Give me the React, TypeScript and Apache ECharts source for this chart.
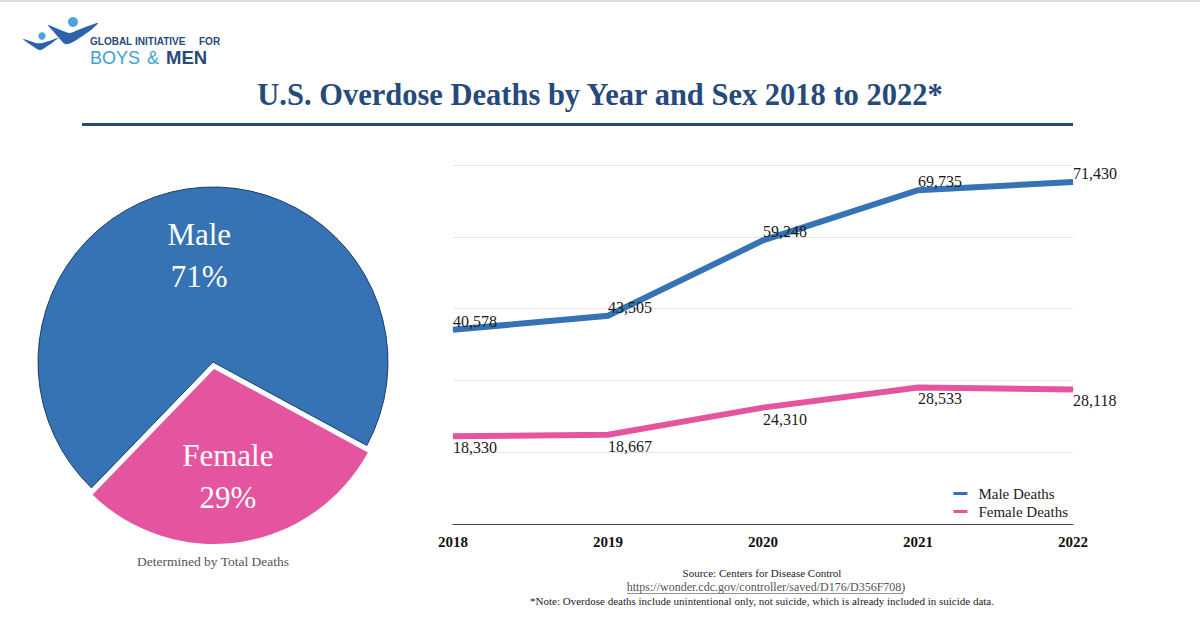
import React, { useEffect, useRef } from "react";
import * as echarts from "echarts";

const years = ["2018", "2019", "2020", "2021", "2022"];
const maleDeaths = [40578, 43505, 59248, 69735, 71430];
const femaleDeaths = [18330, 18667, 24310, 28533, 28118];
const seriesNames = ["Male Deaths", "Female Deaths"];
const pieNames = ["Male", "Female"];
const yTicks = { min: 0, max: 75000, interval: 15000 };

const BLUE = "#3573b4";
const PINK = "#e5559f";
const NAVY = "#264a7c";
const LIGHT = "#3d9fd8";
const SERIF = "'Liberation Serif', 'Times New Roman', serif";
const SANS = "'Liberation Sans', Arial, sans-serif";

const sum = (a: number[]) => a.reduce((s, v) => s + v, 0);

const txt = (x: number, y: number, text: string, font: string, fill: string, align = "left") => ({
  type: "text",
  x,
  y,
  style: { text, font, fill, align, verticalAlign: "middle" },
});

export default function App() {
  const ref = useRef<HTMLDivElement>(null);
  useEffect(() => {
    document.body.style.margin = "0";
    if (!ref.current) return;
    const chart = echarts.init(ref.current, null, { renderer: "svg" });
    const fmt = (v: number) => v.toLocaleString("en-US");
    const option: any = {
      animation: false,
      backgroundColor: "#ffffff",
      legend: {
        data: seriesNames,
        orient: "vertical",
        right: 127,
        top: 481,
        icon: "rect",
        itemWidth: 14,
        itemHeight: 3,
        itemGap: 3,
        textStyle: { fontFamily: SERIF, fontSize: 15, color: "#222", padding: [0, 0, 0, 6] },
        selectedMode: false,
      },
      grid: { left: 453, right: 127, top: 165, bottom: 109, containLabel: false },
      xAxis: {
        type: "category",
        data: years,
        boundaryGap: false,
        axisLine: { lineStyle: { color: "#444", width: 1 } },
        axisTick: { show: false },
        axisLabel: { fontFamily: SERIF, fontWeight: "bold", fontSize: 15, color: "#111", margin: 10 },
        splitLine: { show: false },
      },
      yAxis: {
        type: "value",
        min: yTicks.min,
        max: yTicks.max,
        interval: yTicks.interval,
        axisLine: { show: false },
        axisTick: { show: false },
        axisLabel: { show: false },
        splitLine: { lineStyle: { color: "#e6e6e6", width: 1 } },
      },
      series: [
        {
          name: seriesNames[0],
          type: "line",
          data: maleDeaths,
          symbol: "circle",
          symbolSize: 1,
          showSymbol: true,
          color: BLUE,
          lineStyle: { width: 6, color: BLUE, join: "miter" },
          itemStyle: { color: BLUE },
          label: {
            show: true,
            position: "top",
            align: "left",
            distance: 0,
            fontFamily: SERIF,
            fontSize: 16,
            color: "#1a1a1a",
            formatter: (p: any) => fmt(p.value),
          },
          emphasis: { disabled: true },
        },
        {
          name: seriesNames[1],
          type: "line",
          data: femaleDeaths,
          symbol: "circle",
          symbolSize: 1,
          showSymbol: true,
          color: PINK,
          lineStyle: { width: 6, color: PINK, join: "miter" },
          itemStyle: { color: PINK },
          label: {
            show: true,
            position: "bottom",
            align: "left",
            distance: 3,
            fontFamily: SERIF,
            fontSize: 16,
            color: "#1a1a1a",
            formatter: (p: any) => fmt(p.value),
          },
          emphasis: { disabled: true },
        },
        {
          type: "pie",
          center: [213, 362],
          radius: 175,
          startAngle: 226,
          clockwise: true,
          selectedMode: "single",
          selectedOffset: 7,
          emphasis: { disabled: true },
          label: {
            show: true,
            position: "inner",
            fontFamily: SERIF,
            fontSize: 31,
            lineHeight: 42,
            color: "#ffffff",
            formatter: (p: any) => `${p.name}\n${Math.round(p.percent)}%`,
          },
          labelLine: { show: false },
          labelLayout: (p: any) => (p.dataIndex === 0 ? { dy: -17 } : { dy: 18 }),
          data: [
            {
              name: pieNames[0],
              value: sum(maleDeaths),
              itemStyle: { color: BLUE, borderColor: "#1f3d66", borderWidth: 1 },
            },
            {
              name: pieNames[1],
              value: sum(femaleDeaths),
              selected: true,
              itemStyle: { color: PINK, borderWidth: 0 },
            },
          ],
        },
      ],
      graphic: [
        { type: "rect", shape: { x: 0, y: 0, width: 1200, height: 2 }, style: { fill: "#dcdcdc" } },
        // logo figures
        {
          type: "polygon",
          shape: {
            points: [
              [48, 25], [56, 28], [63, 31], [70, 33], [78, 30], [88, 26], [98, 23],
              [91, 30], [81, 37], [71, 43], [65, 44], [59, 38], [53, 31],
            ],
            smooth: 0.3,
          },
          style: { fill: "#2e63ab" },
        },
        { type: "circle", shape: { cx: 73, cy: 22, r: 5 }, style: { fill: "#4ba4da" } },
        {
          type: "polygon",
          shape: {
            points: [
              [23, 39], [30, 41], [36, 43], [42, 43], [49, 41], [58, 38],
              [52, 43], [46, 47], [40, 50], [34, 47], [28, 43],
            ],
            smooth: 0.3,
          },
          style: { fill: "#2e63ab" },
        },
        { type: "circle", shape: { cx: 42, cy: 36, r: 3.7 }, style: { fill: "#4ba4da" } },
        txt(90, 41, "GLOBAL", `bold 10px ${SANS}`, NAVY),
        txt(135, 41, "INITIATIVE", `bold 10px ${SANS}`, NAVY),
        txt(199, 41, "FOR", `bold 10px ${SANS}`, NAVY),
        txt(90, 57.5, "BOYS", `18px ${SANS}`, LIGHT),
        txt(147, 57.5, "&", `18px ${SANS}`, LIGHT),
        txt(166, 57.5, "MEN", `bold 18.5px ${SANS}`, NAVY),
        txt(600, 95, "U.S. Overdose Deaths by Year and Sex 2018 to 2022*", `bold 30.5px ${SERIF}`, NAVY, "center"),
        { type: "rect", shape: { x: 82, y: 123, width: 991, height: 3 }, style: { fill: NAVY } },
        txt(213, 561, "Determined by Total Deaths", `13.5px ${SERIF}`, "#555", "center"),
        txt(762, 573, "Source: Centers for Disease Control", `11px ${SERIF}`, "#222", "center"),
        txt(766, 587, "https://wonder.cdc.gov/controller/saved/D176/D356F708)", `12px ${SERIF}`, "#555", "center"),
        {
          type: "line",
          shape: { x1: 627, y1: 593.5, x2: 903, y2: 593.5 },
          style: { stroke: "#777", lineWidth: 0.8 },
        },
        txt(
          762,
          601,
          "*Note: Overdose deaths include unintentional only, not suicide, which is already included in suicide data.",
          `11px ${SERIF}`,
          "#222",
          "center"
        ),
      ],
    };
    chart.setOption(option);
    return () => chart.dispose();
  }, []);
  return <div ref={ref} style={{ width: 1200, height: 633 }} />;
}
